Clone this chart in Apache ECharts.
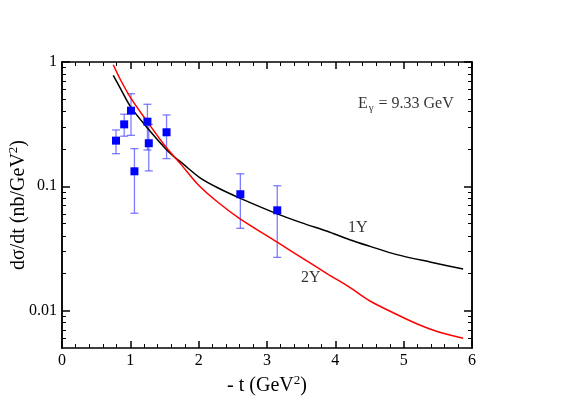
<!DOCTYPE html>
<html><head><meta charset="utf-8">
<script src="https://cdn.jsdelivr.net/npm/echarts@6/dist/echarts.min.js"></script>
<style>html,body{margin:0;padding:0;background:#fff}#c{width:565px;height:399px}</style>
</head><body><div id="c"></div>
<script>
// ---- data ----
const dataX = [0.79, 0.91, 1.01, 1.06, 1.25, 1.27, 1.53, 2.61, 3.15];
const dataY = [0.233, 0.315, 0.406, 0.132, 0.331, 0.222, 0.272, 0.0863, 0.0641];
const errHigh = [0.284, 0.38, 0.556, 0.201, 0.457, 0.315, 0.375, 0.126, 0.101];
const errLow = [0.183, 0.253, 0.257, 0.0607, 0.196, 0.133, 0.167, 0.0459, 0.0268];

const curve1X = [0.75, 0.85, 1.0, 1.25, 1.57, 1.75, 2.02, 2.3, 2.61, 3.15, 3.5, 3.92, 4.21, 4.5, 4.9, 5.4, 5.87];
const curve1Y = [0.78, 0.62, 0.44, 0.295, 0.187, 0.155, 0.117, 0.096, 0.080, 0.060, 0.051, 0.0427, 0.0372, 0.0330, 0.0282, 0.0245, 0.0216];
const curve2X = [0.75, 0.85, 1.0, 1.25, 1.5, 1.75, 2.0, 2.3, 2.6, 3.15, 3.5, 3.9, 4.2, 4.5, 4.9, 5.2, 5.5, 5.87];
const curve2Y = [0.95, 0.73, 0.52, 0.33, 0.214, 0.148, 0.102, 0.073, 0.055, 0.0355, 0.0268, 0.0195, 0.0155, 0.012, 0.0093, 0.0078, 0.00676, 0.006];

const xTicks = [0, 1, 2, 3, 4, 5, 6];
const yTickValues = [0.01, 0.1, 1];
const yTickLabels = ['0.01', '0.1', '1'];
const yMinVal = 0.005, yMaxVal = 1;

const labelTexts = ['1Y', '2Y'];
const labelX = [4.33, 3.64];
const labelY = [0.0462, 0.0183];
const energyText = 'E{sub|γ} = 9.33 GeV';
const energyX = 4.33, energyY = 0.46;

// ---- build ----
const L = v => Math.log10(v);
const yMin = L(yMinVal), yMax = L(yMaxVal);
const majorVals = yTickValues.map(L);
const minorVals = [];
for (let e = -3; e <= -1; e++) for (let k = 2; k <= 9; k++) {
  const v = L(k * Math.pow(10, e));
  if (v > yMin && v < yMax) minorVals.push(v);
}
const FONT = 'Liberation Serif';
const lineStyle = {color: '#000', width: 1.5};

function xAx(pos, showLabel) {
  return {
    type: 'value', position: pos, min: xTicks[0], max: xTicks[xTicks.length - 1], interval: 1,
    axisLine: {show: true, onZero: false, lineStyle},
    axisTick: {show: true, inside: true, length: 7, lineStyle: {color: '#000', width: 1.5}},
    minorTick: {show: true, splitNumber: 5, length: 4, lineStyle: {color: '#000', width: 1}},
    splitLine: {show: false},
    axisLabel: {show: showLabel, color: '#000', fontFamily: FONT, fontSize: 16, margin: 5},
    name: showLabel ? '- t (GeV{sup|2})' : '',
    nameLocation: 'middle', nameGap: 26, nameMoveOverlap: false,
    nameTextStyle: {color: '#000', fontFamily: FONT, fontSize: 20,
      rich: {sup: {fontFamily: FONT, fontSize: 13, verticalAlign: 'top', padding: [0, 0, 11, 0], color: '#000'}}}
  };
}
function yAx(pos, vals, len, showLabel, showName) {
  return {
    type: 'value', position: pos, min: yMin, max: yMax,
    axisLine: {show: true, onZero: false, lineStyle},
    axisTick: {show: true, inside: true, length: len, customValues: vals, lineStyle: {color: '#000', width: len > 5 ? 1.5 : 1}},
    splitLine: {show: false},
    axisLabel: {show: showLabel, customValues: majorVals, color: '#000', fontFamily: FONT, fontSize: 16, margin: 5,
      formatter: v => { const i = majorVals.findIndex(m => Math.abs(m - v) < 1e-6); return i >= 0 ? yTickLabels[i] : ''; }},
    name: showName ? 'dσ/dt (nb/GeV{sup|2})' : '',
    nameLocation: 'middle', nameGap: 31, nameRotate: 90, nameMoveOverlap: false,
    nameTextStyle: {color: '#000', fontFamily: FONT, fontSize: 20,
      rich: {sup: {fontFamily: FONT, fontSize: 13, verticalAlign: 'top', padding: [0, 0, 11, 0], color: '#000'}}}
  };
}

const pts = dataX.map((x, i) => [x, L(dataY[i])]);
const errs = dataX.map((x, i) => [x, L(errLow[i]), L(errHigh[i])]);

const option = {
  animation: false,
  backgroundColor: '#fff',
  grid: {left: 62, right: 93, top: 62, bottom: 51, outerBoundsMode: 'none', containLabel: false},
  xAxis: [xAx('bottom', true), xAx('top', false)],
  yAxis: [
    yAx('left', majorVals, 8, true, true),
    yAx('left', minorVals, 4, false, false),
    yAx('right', majorVals, 8, false, false),
    yAx('right', minorVals, 4, false, false)
  ],
  series: [
    {type: 'custom', xAxisIndex: 0, yAxisIndex: 0, silent: true, z: 2,
      renderItem: (params, api) => {
        const x = api.value(0);
        const lo = api.coord([x, api.value(1)]);
        const hi = api.coord([x, api.value(2)]);
        const c = 4;
        const st = {stroke: 'rgba(70,70,255,0.7)', lineWidth: 1.3};
        return {type: 'group', children: [
          {type: 'line', shape: {x1: lo[0], y1: lo[1], x2: hi[0], y2: hi[1]}, style: st},
          {type: 'line', shape: {x1: lo[0] - c, y1: lo[1], x2: lo[0] + c, y2: lo[1]}, style: st},
          {type: 'line', shape: {x1: hi[0] - c, y1: hi[1], x2: hi[0] + c, y2: hi[1]}, style: st}
        ]};
      },
      encode: {x: 0, y: [1, 2]},
      data: errs},
    {type: 'line', smooth: 0.3, showSymbol: false, z: 3,
      lineStyle: {color: '#000', width: 1.5},
      data: curve1X.map((x, i) => [x, L(curve1Y[i])])},
    {type: 'line', smooth: 0.3, showSymbol: false, z: 3,
      lineStyle: {color: '#ff0000', width: 1.5},
      data: curve2X.map((x, i) => [x, L(curve2Y[i])])},
    {type: 'scatter', symbol: 'rect', symbolSize: 8, z: 4,
      itemStyle: {color: '#0000ff', opacity: 1}, data: pts},
    {type: 'scatter', symbolSize: 0, silent: true, z: 5,
      label: {show: true, position: 'inside', color: '#000', fontFamily: FONT, fontSize: 16,
        formatter: p => labelTexts[p.dataIndex]},
      data: labelX.map((x, i) => [x, L(labelY[i])])},
    {type: 'scatter', symbolSize: 0, silent: true, z: 5,
      label: {show: true, position: 'right', distance: 0, color: '#000', fontFamily: FONT, fontSize: 16,
        formatter: () => energyText,
        rich: {sub: {fontFamily: FONT, fontSize: 11, verticalAlign: 'bottom', padding: [9, 1, 0, 1], color: '#000'}}},
      data: [[energyX, L(energyY)]]}
  ]
};
const chart = echarts.init(document.getElementById('c'), null, {renderer: 'canvas'});
chart.setOption(option);
</script></body></html>
